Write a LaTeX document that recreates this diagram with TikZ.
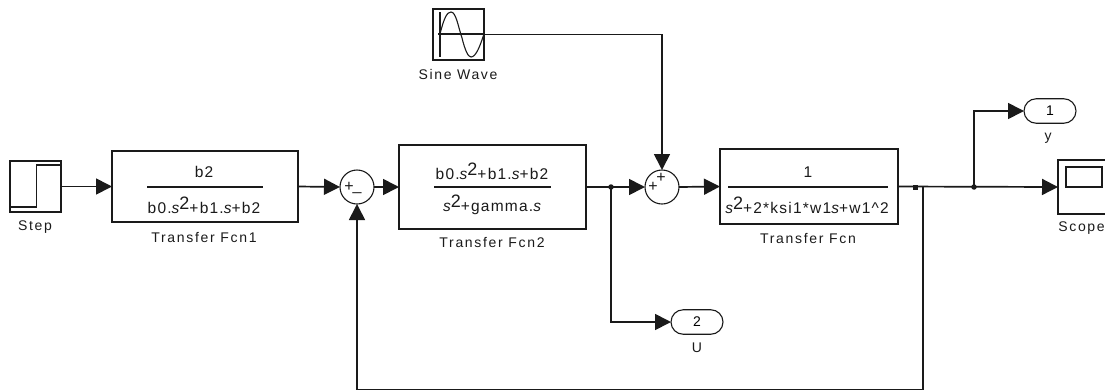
\documentclass[tikz,border=0pt]{standalone}
\usepackage{fontspec}
\setmainfont{Liberation Sans}
\newfontfamily\lblfont[LetterSpace=12]{Liberation Sans}
\newfontfamily\fracfont[LetterSpace=8]{Liberation Sans}
\usetikzlibrary{arrows.meta,shapes.misc}
\definecolor{ink}{HTML}{1A1A1A}
\newcommand{\sv}{{\itshape s}}
\newcommand{\ssup}{\raisebox{4pt}{\fontsize{18}{18}\selectfont 2}}
\tikzset{
  block/.style={draw=ink,line width=1.4pt,fill=white,inner sep=0pt,outer sep=0pt,anchor=north west},
  sumnode/.style={circle,draw=ink,line width=1.1pt,fill=white,minimum size=34pt,inner sep=0pt,outer sep=0pt},
  pill/.style={rounded rectangle,draw=ink,line width=1.1pt,fill=white,inner sep=0pt,outer sep=0pt,minimum width=52pt,minimum height=24.5pt},
  lbl/.style={inner sep=0pt,text=ink,font=\fontsize{14}{14}\selectfont\lblfont},
  frac/.style={inner sep=0pt,text=ink,font=\fontsize{15.5}{16}\selectfont\fracfont},
  sgn/.style={inner sep=0pt,text=ink,font=\fontsize{16}{16}\selectfont},
  wire/.style={draw=ink,line width=1.7pt},
  sig/.style={wire,-{Triangle[length=16pt,width=16pt]}},
  bar/.style={draw=ink,line width=1.3pt},
  dotj/.style={circle,fill=ink,inner sep=0pt,minimum size=5.5pt}
}
\begin{document}
\begin{tikzpicture}[x=1pt,y=-1pt]
\useasboundingbox (0,0) rectangle (1105,389);
\clip (0,0) rectangle (1105,389);
% blocks
\node[block,minimum width=51pt,minimum height=51pt] (step) at (10,161) {};
\node[block,minimum width=186pt,minimum height=71pt] (tfa) at (112,151) {};
\node[block,minimum width=187pt,minimum height=84pt] (tfb) at (399,145) {};
\node[block,minimum width=178pt,minimum height=75pt] (tfc) at (720,149) {};
\node[block,minimum width=51pt,minimum height=51pt] (sine) at (433,9) {};
\node[block,minimum width=60pt,minimum height=54pt] (scope) at (1058,160) {};
\node[sumnode] (suma) at (357,187) {};
\node[sumnode] (sumb) at (662,187) {};
\node[pill] (outa) at (1050,111) {\fontsize{14}{14}\selectfont\lblfont 1};
\node[pill] (outb) at (697,322) {\fontsize{14}{14}\selectfont\lblfont 2};
% icons
\draw[bar] (10,207) -- (36.5,207) -- (36.5,165) -- (61,165);
\draw[bar] (440,12) -- (440,57);
\draw[bar] (438,34) -- (484,34);
\draw[draw=ink,line width=1.1pt] (440,34) .. controls (444,18) and (447,12) .. (451,12)
  .. controls (456,12) and (458,26) .. (462,38)
  .. controls (465,50) and (468,57) .. (471,57)
  .. controls (476,57) and (480,46) .. (484,34);
\draw[draw=ink,line width=1.4pt] (1066,167) rectangle (1102,187);
% fractions
\node[coordinate] (tfaa) at (147,187) {};
\node[coordinate] (tfab) at (263,187) {};
\draw[bar] (tfaa) -- (tfab);
\node[frac] (numa) at (204,172) {b2};
\node[frac] (dena) at (204,205) {b0.\sv\ssup+b1.\sv+b2};
\node[coordinate] (tfba) at (434,187) {};
\node[coordinate] (tfbb) at (551,187) {};
\draw[bar] (tfba) -- (tfbb);
\node[frac] (numb) at (492,171) {b0.\sv\ssup+b1.\sv+b2};
\node[frac] (denb) at (492,205) {\sv\ssup+gamma.\sv};
\node[coordinate] (tfca) at (728,187) {};
\node[coordinate] (tfcb) at (888,187) {};
\draw[bar] (tfca) -- (tfcb);
\node[frac] (numc) at (808,172) {1};
\node[frac] (denc) at (807,205) {\sv\ssup+2*ksi1*w1\sv+w1\string^2};
% signs
\node[sgn] (pa) at (349,187) {+};
\node[sgn] (ma) at (357,192) {\_};
\node[sgn] (pb) at (653,187) {+};
\node[sgn] (pc) at (661,178) {+};
% labels
\node[lbl] (lstep) at (35,227) {Step};
\node[lbl] (ltfa) at (204,237) {Transfer Fcn1};
\node[lbl] (lsine) at (458,74) {Sine Wave};
\node[lbl] (ltfb) at (492,242) {Transfer Fcn2};
\node[lbl] (ltfc) at (808,238) {Transfer Fcn};
\node[lbl] (lscope) at (1081.5,228) {Scope};
\node[lbl] (ly) at (1048,138) {y};
\node[lbl] (lu) at (697,348) {U};
% junctions
\node[dotj] (ja) at (611,187) {};
\node[dotj,rectangle,minimum size=5pt] (jb) at (915,187) {};
\node[dotj] (jc) at (974,187) {};
\coordinate (fb) at (923,187);
\coordinate (fbd) at (923,389.4);
\coordinate (fbl) at (357,389.4);
% connectors
\draw[sig] (step.east) -- (tfa.west);
\draw[sig] (tfa.east) -- (suma.west);
\draw[sig] (suma.east) -- (tfb.west);
\draw[sig] (tfb.east) -- (sumb.west);
\draw[sig] (sumb.east) -- (tfc.west);
\draw[sig] (tfc.east) -- (scope.west);
\draw[sig] (sine.east) -| (sumb.north);
\draw[sig] (ja.center) |- (outb.west);
\draw[sig] (jc.center) |- (outa.west);
\draw[sig] (fb) -- (fbd) -- (fbl) -- (suma.south);
\end{tikzpicture}
\end{document}
